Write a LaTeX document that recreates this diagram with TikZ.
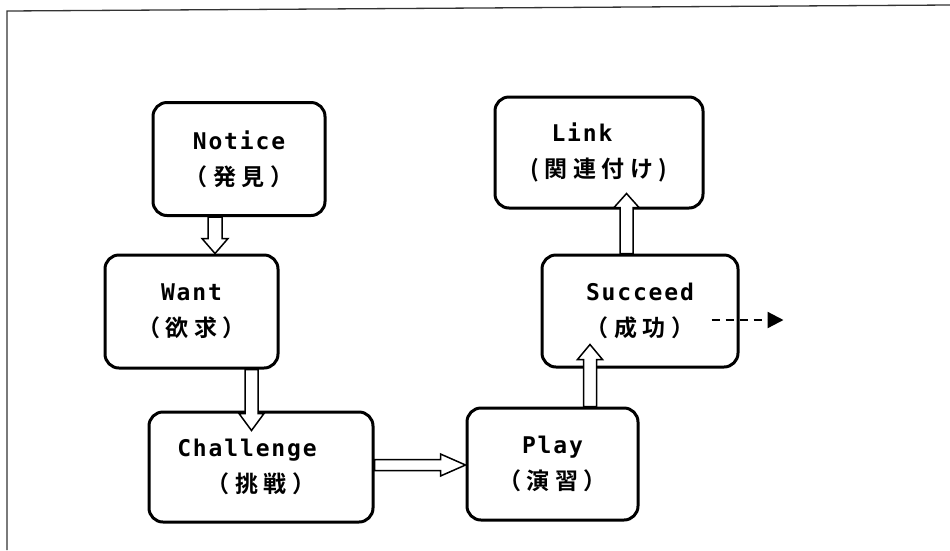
\documentclass[tikz,border=0pt]{standalone}
\usepackage{fontspec}
\usetikzlibrary{calc,arrows.meta}
\newfontfamily\latf[LetterSpace=8,UprightFont={* Bold}]{DejaVu Sans Mono}
\newfontfamily\cjkf[LetterSpace=24,UprightFont={* Bold}]{Noto Sans CJK JP}
\newcommand\latl[1]{{\fontsize{23}{36}\selectfont\latf #1}}
\newcommand\cjkl[1]{{\fontsize{23}{36}\selectfont\cjkf #1}}
\newcommand\hollowarrow[5]{%
  \path[harrow] let \p1=(#1), \p2=(#2),
    \n1={atan2(\y2-\y1,\x2-\x1)}, \n2={veclen(\x2-\x1,\y2-\y1)} in
    [shift={(\p1)}, rotate=\n1]
    (0pt,-#3pt) -- ({\n2-#5pt},-#3pt) -- ({\n2-#5pt},-#4pt) -- (\n2,0pt)
    -- ({\n2-#5pt},#4pt) -- ({\n2-#5pt},#3pt) -- (0pt,#3pt) -- cycle;}
\tikzset{
  box/.style={draw, line width=3pt, rounded corners=14pt, align=center,
    inner sep=0pt, font=\fontsize{21}{36}\selectfont},
  harrow/.style={draw, fill=white, line width=1.5pt, line join=miter},
  darrow/.style={line width=2.2pt, dash pattern=on 8pt off 6pt,
    -{Triangle[length=16pt,width=16pt]}},
  frame/.style={line width=1.3pt, draw=black!80},
}
\begin{document}
\begin{tikzpicture}[x=1pt,y=-1pt]
\useasboundingbox (0,0) rectangle (950,550);
\draw[frame] (7,550) -- (7,11) -- (950,5);

\node[box, minimum width=172pt, minimum height=113pt] (notice) at (239,159)
  {\latl{Notice}\\\cjkl{（発見）}};
\node[box, minimum width=173pt, minimum height=113pt] (want) at (191.5,311.5)
  {\latl{Want}\\\cjkl{（欲求）}};
\node[box, minimum width=224pt, minimum height=110pt] (challenge) at (261,467)
  {\latl{Challenge}\hspace*{28pt}\\\cjkl{（挑戦）}};
\node[box, minimum width=171pt, minimum height=112pt] (play) at (552.5,464)
  {\latl{Play}\\\cjkl{（演習）}};
\node[box, minimum width=208pt, minimum height=111pt] (link) at (599,152.5)
  {\latl{Link}\hspace*{34pt}\\\cjkl{(関連付け)}};
\node[box, minimum width=196pt, minimum height=112pt] (succeed) at (640,311)
  {\latl{Succeed}\\\cjkl{（成功）}};

\hollowarrow{$(notice.south)+(-24,0)$}{$(want.north)+(23.5,0)$}{7}{13}{15}
\hollowarrow{$(want.south)+(60,0)$}{$(challenge.north)+(-9.5,20)$}{6.5}{12.5}{17}
\hollowarrow{$(challenge.east)+(0,-2)$}{$(play.west)+(0,1)$}{5.5}{11}{25}
\hollowarrow{$(play.north)+(37.5,0)$}{$(succeed.south)+(-50,-24)$}{6.5}{12.5}{15}
\hollowarrow{$(succeed.north)+(-13.5,0)$}{$(link.south)+(27.5,-16)$}{6.5}{12.5}{14}

\coordinate (ds) at ($(succeed.east)+(-28,9)$);
\coordinate (de) at ($(succeed.east)+(44,9)$);
\draw[darrow] (ds) -- (de);
\end{tikzpicture}
\end{document}
